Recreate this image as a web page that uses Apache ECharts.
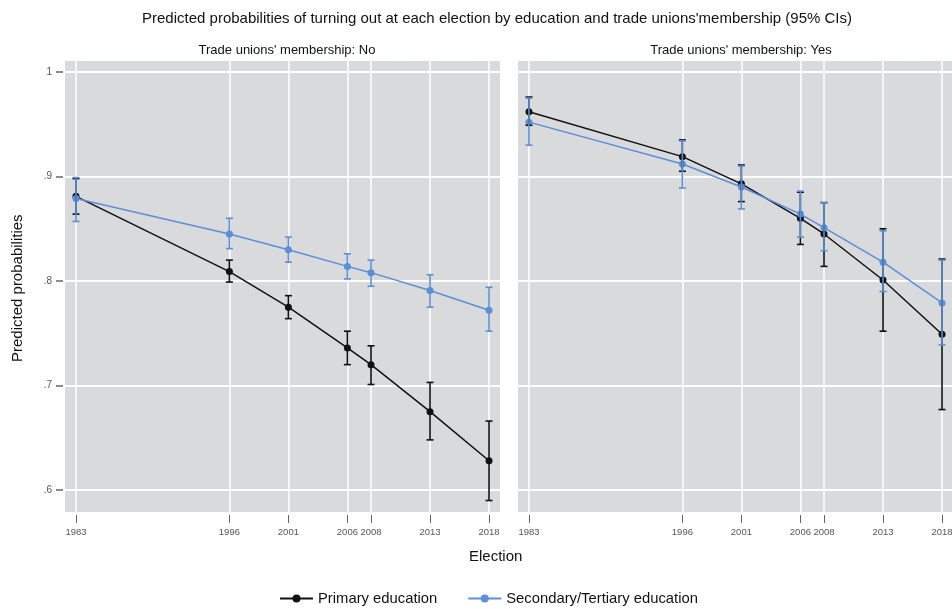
<!DOCTYPE html>
<html>
<head>
<meta charset="utf-8">
<title>Predicted probabilities of turning out</title>
<style>
  * { margin: 0; padding: 0; }
  #chart-container { width: 952px; height: 609px; background: #fff; }
</style>
</head>
<body>
<div id="chart-container"></div>
<script src="https://cdn.jsdelivr.net/npm/echarts@6/dist/echarts.min.js"></script>
<script>
var years = [1983, 1996, 2001, 2006, 2008, 2013, 2018];
var yTicks = [0.6, 0.7, 0.8, 0.9, 1];

// Trade unions' membership: No
var noPrimary     = [0.881, 0.809, 0.775, 0.736, 0.720, 0.675, 0.628];
var noPrimaryLow  = [0.864, 0.799, 0.764, 0.720, 0.701, 0.648, 0.590];
var noPrimaryHigh = [0.898, 0.820, 0.786, 0.752, 0.738, 0.703, 0.666];
var noSecondary     = [0.879, 0.845, 0.830, 0.814, 0.808, 0.791, 0.772];
var noSecondaryLow  = [0.857, 0.831, 0.818, 0.802, 0.795, 0.775, 0.752];
var noSecondaryHigh = [0.899, 0.860, 0.842, 0.826, 0.820, 0.806, 0.794];

// Trade unions' membership: Yes
var yesPrimary     = [0.962, 0.919, 0.893, 0.860, 0.845, 0.801, 0.749];
var yesPrimaryLow  = [0.949, 0.905, 0.876, 0.835, 0.814, 0.752, 0.677];
var yesPrimaryHigh = [0.976, 0.935, 0.911, 0.885, 0.875, 0.850, 0.821];
var yesSecondary     = [0.952, 0.912, 0.890, 0.864, 0.851, 0.818, 0.779];
var yesSecondaryLow  = [0.930, 0.889, 0.869, 0.842, 0.829, 0.790, 0.739];
var yesSecondaryHigh = [0.975, 0.934, 0.910, 0.886, 0.875, 0.848, 0.820];

var BLACK = '#111111';
var BLUE = '#5b8fd6';
var NARROW = "'Liberation Sans Narrow', 'Liberation Sans', Arial, sans-serif";
var SANS = "'Liberation Sans', Arial, sans-serif";

var chart = echarts.init(document.getElementById('chart-container'), null, { renderer: 'canvas' });

function pairs(vals) {
  return years.map(function (y, i) { return [y, vals[i]]; });
}
function ranges(lo, hi) {
  return years.map(function (y, i) { return [y, lo[i], hi[i]]; });
}

// vertical error bar with caps
function renderBar(params, api) {
  var x = api.value(0);
  var lo = api.coord([x, api.value(1)]);
  var hi = api.coord([x, api.value(2)]);
  var hw = 3.5;
  var st = { stroke: api.visual('color'), lineWidth: 1.6 };
  return {
    type: 'group',
    children: [
      { type: 'line', shape: { x1: lo[0], y1: lo[1], x2: hi[0], y2: hi[1] }, style: st },
      { type: 'line', shape: { x1: lo[0] - hw, y1: lo[1], x2: lo[0] + hw, y2: lo[1] }, style: st },
      { type: 'line', shape: { x1: hi[0] - hw, y1: hi[1], x2: hi[0] + hw, y2: hi[1] }, style: st }
    ]
  };
}

function xAxisFor(gridIndex) {
  return {
    type: 'value',
    gridIndex: gridIndex,
    min: 1982.07,
    max: 2018.93,
    offset: 3,
    axisLine: { show: false },
    axisTick: { show: true, length: 8, customValues: years, lineStyle: { color: '#666', width: 1 } },
    axisLabel: {
      customValues: years,
      margin: 12,
      color: '#555',
      fontSize: 9.5,
      fontFamily: NARROW,
      formatter: function (v) { return String(v); }
    },
    splitLine: { show: true, lineStyle: { color: '#ffffff', width: 1.5 } }
  };
}

function yAxisFor(gridIndex, showLabels) {
  return {
    type: 'value',
    gridIndex: gridIndex,
    min: 0.579,
    max: 1.0105,
    offset: 2,
    axisLine: { show: false },
    axisTick: { show: showLabels, length: 7, customValues: yTicks, lineStyle: { color: '#666', width: 1.5 } },
    axisLabel: {
      show: showLabels,
      customValues: yTicks,
      margin: 11,
      color: '#555',
      fontSize: 10,
      fontFamily: NARROW,
      formatter: function (v) { return v >= 0.999 ? '1' : '.' + Math.round(v * 10); }
    },
    splitLine: { show: true, lineStyle: { color: '#ffffff', width: 2 } }
  };
}

function lineSeries(name, color, data, idx) {
  return {
    name: name,
    type: 'line',
    xAxisIndex: idx,
    yAxisIndex: idx,
    data: data,
    symbol: 'circle',
    symbolSize: 7,
    lineStyle: { color: color, width: 1.5 },
    itemStyle: { color: color },
    animation: false,
    z: 3
  };
}

function barSeries(name, color, data, idx) {
  return {
    name: name,
    type: 'custom',
    xAxisIndex: idx,
    yAxisIndex: idx,
    data: data,
    renderItem: renderBar,
    itemStyle: { color: color },
    animation: false,
    z: 4
  };
}

var option = {
  backgroundColor: '#ffffff',
  title: [
    {
      text: "Predicted probabilities of turning out at each election by education and trade unions'membership (95% CIs)",
      left: 492, top: 6, textAlign: 'center',
      textStyle: { fontFamily: NARROW, fontSize: 15, fontWeight: 'normal', color: '#111' }
    },
    {
      text: "Trade unions' membership: No",
      left: 282, top: 39, textAlign: 'center',
      textStyle: { fontFamily: NARROW, fontSize: 13, fontWeight: 'normal', color: '#111' }
    },
    {
      text: "Trade unions' membership: Yes",
      left: 736, top: 39, textAlign: 'center',
      textStyle: { fontFamily: NARROW, fontSize: 13, fontWeight: 'normal', color: '#111' }
    }
  ],
  legend: {
    data: ['Primary education', 'Secondary/Tertiary education'],
    left: 274,
    top: 586,
    itemWidth: 33,
    itemHeight: 10,
    itemGap: 30,
    textStyle: { fontFamily: SANS, fontSize: 14.8, color: '#111' }
  },
  graphic: [
    {
      type: 'text', left: 469, top: 549,
      style: { text: 'Election', font: '15px ' + SANS, fill: '#111' }
    },
    {
      type: 'text', rotation: Math.PI / 2, x: 10, y: 362,
      style: { text: 'Predicted probabilities', font: '15px ' + SANS, fill: '#111' }
    }
  ],
  grid: [
    { left: 65, top: 61, width: 435, height: 451, outerBoundsMode: 'none', show: true, backgroundColor: '#d9dadb', borderWidth: 0 },
    { left: 518, top: 61, width: 435, height: 451, outerBoundsMode: 'none', show: true, backgroundColor: '#d9dadb', borderWidth: 0 }
  ],
  xAxis: [xAxisFor(0), xAxisFor(1)],
  yAxis: [yAxisFor(0, true), yAxisFor(1, false)],
  series: [
    lineSeries('Primary education', BLACK, pairs(noPrimary), 0),
    barSeries('Primary CI No', BLACK, ranges(noPrimaryLow, noPrimaryHigh), 0),
    lineSeries('Secondary/Tertiary education', BLUE, pairs(noSecondary), 0),
    barSeries('Secondary CI No', BLUE, ranges(noSecondaryLow, noSecondaryHigh), 0),
    lineSeries('Primary education', BLACK, pairs(yesPrimary), 1),
    barSeries('Primary CI Yes', BLACK, ranges(yesPrimaryLow, yesPrimaryHigh), 1),
    lineSeries('Secondary/Tertiary education', BLUE, pairs(yesSecondary), 1),
    barSeries('Secondary CI Yes', BLUE, ranges(yesSecondaryLow, yesSecondaryHigh), 1)
  ]
};

chart.setOption(option);
window.addEventListener('resize', chart.resize);
</script>
</body>
</html>
